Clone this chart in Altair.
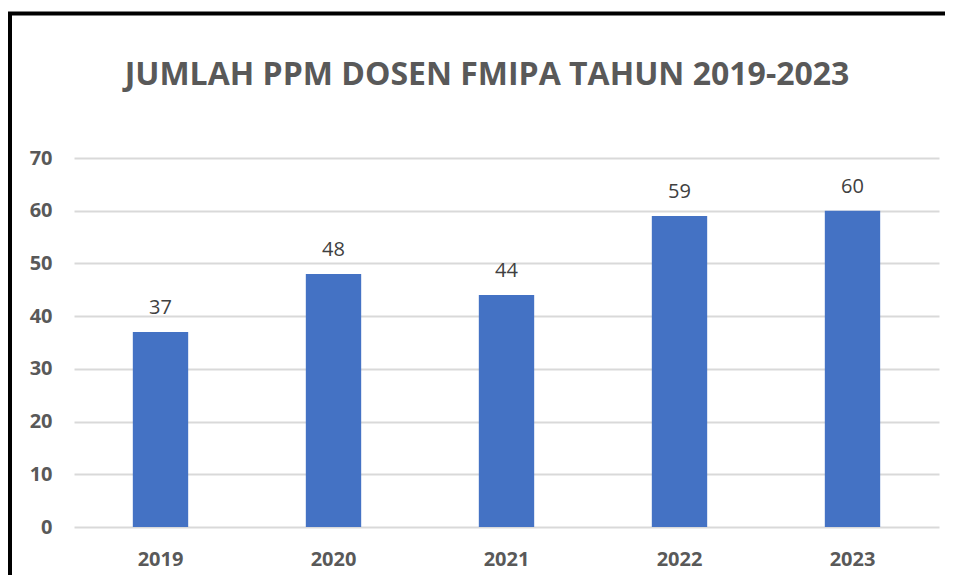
import altair as alt
import pandas as pd

years = ["2019", "2020", "2021", "2022", "2023"]
values = [37, 48, 44, 59, 60]
title_text = "JUMLAH PPM DOSEN FMIPA TAHUN 2019-2023"

df = pd.DataFrame({"year": years, "value": values})

FONT = "Open Sans"

x_enc = alt.X("year:N", sort=years, title=None,
              scale=alt.Scale(paddingInner=0.68, paddingOuter=0.34),
              axis=alt.Axis(labelAngle=0, labelFontSize=20, labelFontWeight="bold",
                            labelColor="#595959", labelFont=FONT, ticks=False,
                            domain=False, labelPadding=22))
y_enc = alt.Y("value:Q", title=None,
              scale=alt.Scale(domain=[0, 70], nice=False),
              axis=alt.Axis(values=[0, 10, 20, 30, 40, 50, 60, 70], labelFontSize=20,
                            labelFontWeight="bold", labelColor="#595959", labelFont=FONT,
                            ticks=False, domain=False, labelPadding=22,
                            gridColor="#d9d9d9", gridWidth=2))

bars = alt.Chart(df).mark_bar(color="#4472C4").encode(x=x_enc, y=y_enc)

labels = alt.Chart(df).mark_text(fontSize=20, font=FONT, color="#404040",
                                 baseline="alphabetic", dy=-18).encode(
    x=alt.X("year:N", sort=years), y="value:Q", text="value:Q")

title = alt.Chart(pd.DataFrame({"t": [title_text]})).mark_text(
    fontSize=32, fontWeight="bold", font=FONT, color="#595959",
    baseline="alphabetic", align="center").encode(
    x=alt.value(413), y=alt.value(-73), text="t:N")

border_left = alt.Chart(pd.DataFrame({"a": [0]})).mark_rule(color="black", strokeWidth=4).encode(
    x=alt.value(-64), y=alt.value(-146), y2=alt.value(450))
border_top = alt.Chart(pd.DataFrame({"a": [0]})).mark_rule(color="black", strokeWidth=4).encode(
    x=alt.value(-66), x2=alt.value(950), y=alt.value(-144.5))

chart = alt.layer(bars, labels, title, border_left, border_top).properties(
    width=865, height=369,
    autosize=alt.AutoSizeParams(type="none"),
    padding={"left": 66, "top": 150, "right": 6, "bottom": 48},
    background="white",
).configure_view(stroke=None)

chart.save("out.html", embed_options={"renderer": "svg", "actions": False})
